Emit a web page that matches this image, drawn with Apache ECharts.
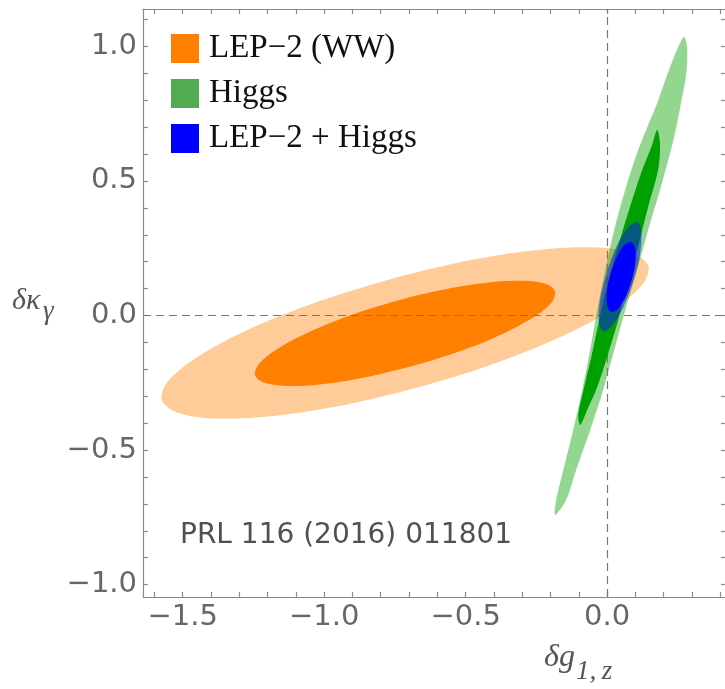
<!DOCTYPE html>
<html>
<head>
<meta charset="utf-8">
<title>LEP-2 and Higgs constraints</title>
<script src="https://cdn.jsdelivr.net/npm/echarts@6.0.0/dist/echarts.min.js"></script>
<style>
  html, body { margin: 0; padding: 0; background: #fff; }
  #main { width: 725px; height: 689px; }
</style>
</head>
<body>
<div id="main"></div>
<script>
// 坐标轴范围与刻度
var xMin = -1.64, xMax = 0.42;
var yMin = -1.046, yMax = 1.139;
var xMajorTicks = [-1.5, -1.0, -0.5, 0.0];
var yMajorTicks = [-1.0, -0.5, 0.0, 0.5, 1.0];
var xMinorTicks = [-1.6, -1.5, -1.4, -1.3, -1.2, -1.1, -1.0, -0.9, -0.8, -0.7, -0.6, -0.5, -0.4, -0.3, -0.2, -0.1, 0.0, 0.1, 0.2, 0.3, 0.4];
var yMinorTicks = [-1.0, -0.9, -0.8, -0.7, -0.6, -0.5, -0.4, -0.3, -0.2, -0.1, 0.0, 0.1, 0.2, 0.3, 0.4, 0.5, 0.6, 0.7, 0.8, 0.9, 1.0, 1.1];

// 轮廓边界点 [δg1z, δκγ]
var lep95 = [
  [0.146, 0.183], [0.130, 0.123], [0.057, 0.050], [-0.069, -0.031], [-0.239, -0.114],
  [-0.441, -0.194], [-0.661, -0.265], [-0.886, -0.323], [-1.099, -0.363], [-1.285, -0.382],
  [-1.432, -0.380], [-1.531, -0.356], [-1.574, -0.313], [-1.558, -0.253], [-1.484, -0.180],
  [-1.358, -0.099], [-1.189, -0.016], [-0.987, 0.064], [-0.766, 0.135], [-0.541, 0.193],
  [-0.329, 0.233], [-0.143, 0.252], [0.005, 0.250], [0.103, 0.226]
];
var lep68 = [
  [-0.184, 0.089], [-0.194, 0.052], [-0.239, 0.008], [-0.317, -0.041], [-0.421, -0.093],
  [-0.546, -0.142], [-0.682, -0.186], [-0.820, -0.222], [-0.951, -0.248], [-1.066, -0.261],
  [-1.157, -0.260], [-1.218, -0.247], [-1.244, -0.221], [-1.234, -0.185], [-1.189, -0.141],
  [-1.111, -0.091], [-1.006, -0.040], [-0.882, 0.010], [-0.746, 0.054], [-0.607, 0.090],
  [-0.476, 0.115], [-0.361, 0.128], [-0.271, 0.128], [-0.210, 0.115]
];
var higgs95 = [
  [0.272, 1.036], [0.283, 0.988], [0.279, 0.894], [0.261, 0.790], [0.244, 0.698],
  [0.223, 0.605], [0.187, 0.467], [0.145, 0.318], [0.106, 0.169], [0.064, 0.020],
  [0.025, -0.128], [-0.014, -0.277], [-0.060, -0.426], [-0.110, -0.575], [-0.145, -0.686],
  [-0.184, -0.742], [-0.180, -0.686], [-0.155, -0.575], [-0.120, -0.426], [-0.088, -0.277],
  [-0.060, -0.128], [-0.035, 0.020], [-0.007, 0.169], [0.025, 0.318], [0.064, 0.467],
  [0.106, 0.605], [0.141, 0.698], [0.177, 0.790], [0.212, 0.894], [0.247, 0.988]
];
var higgs68 = [
  [0.177, 0.690], [0.187, 0.634], [0.180, 0.541], [0.145, 0.404], [0.106, 0.244],
  [0.064, 0.095], [0.039, -0.017], [0.004, -0.140], [-0.035, -0.266], [-0.071, -0.352],
  [-0.095, -0.407], [-0.102, -0.370], [-0.081, -0.266], [-0.053, -0.140], [-0.028, -0.017],
  [-0.004, 0.095], [0.035, 0.244], [0.081, 0.404], [0.124, 0.541], [0.159, 0.634]
];
var comb95 = [
  [0.106, 0.348], [0.121, 0.313], [0.117, 0.233], [0.093, 0.130], [0.057, 0.031],
  [0.017, -0.038], [-0.014, -0.058], [-0.029, -0.023], [-0.025, 0.057], [-0.001, 0.160],
  [0.035, 0.260], [0.075, 0.328]
];
var comb68 = [
  [0.085, 0.273], [0.099, 0.250], [0.100, 0.199], [0.087, 0.132], [0.064, 0.068],
  [0.038, 0.025], [0.014, 0.013], [0.000, 0.036], [-0.001, 0.088], [0.012, 0.154],
  [0.035, 0.218], [0.061, 0.262]
];

var legendNames = ['LEP\u22122 (WW)', 'Higgs', 'LEP\u22122 + Higgs'];
var legendColors = ['#ff8000', '#52aa52', '#0000ff'];

var chart = echarts.init(document.getElementById('main'));

function tickFmt(v) {
  var s = Math.abs(v).toFixed(1);
  return v < -1e-9 ? '\u2212' + s : s;
}

// 多边形轮廓
function contour(name, ring, color, z) {
  return {
    name: name,
    type: 'custom',
    coordinateSystem: 'cartesian2d',
    xAxisIndex: 0,
    yAxisIndex: 0,
    z: z,
    silent: true,
    encode: { x: 0, y: 1 },
    data: ring,
    renderItem: function (params, api) {
      if (params.dataIndex !== 0) return;
      var pts = ring.map(function (p) { return api.coord(p); });
      return {
        type: 'polygon',
        shape: { points: pts, smooth: 0.3 },
        style: { fill: color }
      };
    }
  };
}

var frameColor = '#8a8a8a';

function frameAxis(pos, ticks, labels, min, max) {
  return {
    type: 'value',
    position: pos,
    min: min,
    max: max,
    axisLine: { show: true, onZero: false, lineStyle: { color: frameColor, width: 1.2 } },
    axisTick: { show: true, inside: true, length: 5, customValues: ticks, lineStyle: { color: frameColor, width: 1.2 } },
    axisLabel: labels ? {
      show: true, customValues: labels, formatter: tickFmt, margin: 6,
      fontFamily: 'DejaVu Sans', fontSize: 29, color: '#666666'
    } : { show: false },
    splitLine: { show: false }
  };
}

var option = {
  animation: false,
  backgroundColor: '#ffffff',
  grid: { left: 143, width: 583, top: 9, bottom: 92, containLabel: false, outerBoundsMode: 'none' },
  legend: {
    orient: 'vertical',
    left: 166,
    top: 27,
    itemWidth: 28,
    itemHeight: 29,
    itemGap: 12,
    icon: 'rect',
    selectedMode: false,
    textStyle: { fontFamily: 'Liberation Serif', fontSize: 33, color: '#111', lineHeight: 29, padding: [0, 0, 0, 5] },
    data: legendNames.map(function (n, i) {
      return { name: n, icon: 'rect', itemStyle: { color: legendColors[i] } };
    })
  },
  xAxis: [
    frameAxis('bottom', xMinorTicks, xMajorTicks, xMin, xMax),
    frameAxis('top', xMinorTicks, null, xMin, xMax)
  ],
  yAxis: [
    frameAxis('left', yMinorTicks, yMajorTicks, yMin, yMax),
    frameAxis('right', yMinorTicks, null, yMin, yMax)
  ],
  graphic: [
    { type: 'text', left: 180, top: 522, z: 50,
      style: { text: 'PRL 116 (2016) 011801', fontFamily: 'DejaVu Sans', fontSize: 28, fill: '#505050' } },
    { type: 'text', x: 12, y: 316, z: 50,
      style: { text: '\u03b4\u03ba', fontFamily: 'Liberation Serif', fontStyle: 'italic', fontSize: 30, fill: '#555', verticalAlign: 'bottom' } },
    { type: 'text', x: 43, y: 325, z: 50,
      style: { text: '\u03b3', fontFamily: 'Liberation Serif', fontStyle: 'italic', fontSize: 27, fill: '#555', verticalAlign: 'bottom' } },
    { type: 'text', x: 544, y: 674, z: 50,
      style: { text: '\u03b4g', fontFamily: 'Liberation Serif', fontStyle: 'italic', fontSize: 32, fill: '#555', verticalAlign: 'bottom' } },
    { type: 'text', x: 576, y: 685, z: 50,
      style: { text: '1,\u2009z', fontFamily: 'Liberation Serif', fontStyle: 'italic', fontSize: 27, fill: '#555', verticalAlign: 'bottom' } }
  ],
  series: [
    contour(legendNames[0], lep95, 'rgba(255,128,0,0.4)', 2),
    contour(legendNames[0], lep68, '#ff8000', 3),
    contour(legendNames[1], higgs95, 'rgba(30,170,20,0.48)', 4),
    contour(legendNames[1], higgs68, '#00a000', 5),
    contour(legendNames[2], comb95, 'rgba(10,30,230,0.55)', 6),
    contour(legendNames[2], comb68, '#0000ff', 7),
    {
      name: 'zero',
      type: 'line',
      data: [],
      z: 20,
      markLine: {
        silent: true,
        symbol: ['none', 'none'],
        label: { show: false },
        lineStyle: { color: '#777', type: [8, 5], width: 1.2 },
        data: [{ xAxis: 0 }, { yAxis: 0 }]
      }
    }
  ]
};

chart.setOption(option);
window.onresize = function () {
  chart.resize();
};
</script>
</body>
</html>
